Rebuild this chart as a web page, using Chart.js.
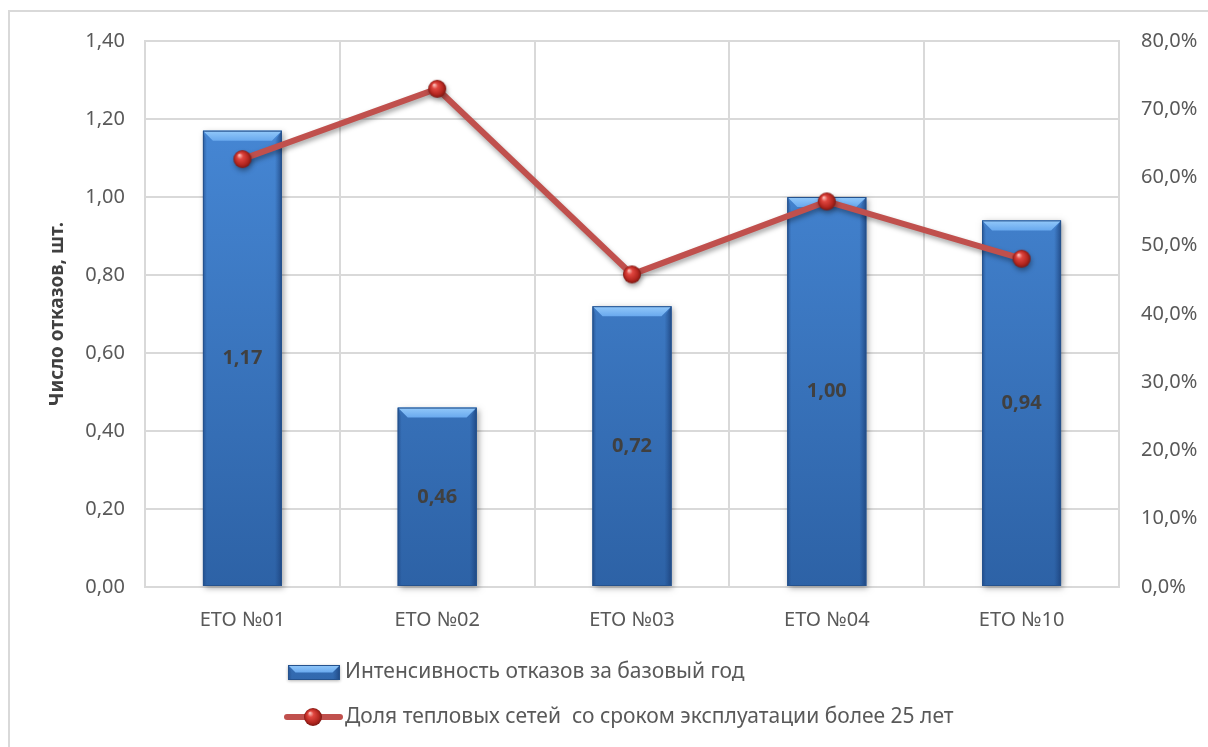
<!DOCTYPE html>
<html>
<head>
<meta charset="utf-8">
<script src="https://cdn.jsdelivr.net/npm/chart.js@4.4.1/dist/chart.umd.min.js"></script>
<style>
  html, body { margin: 0; padding: 0; background: #fff; }
  canvas { display: block; }
</style>
</head>
<body>
<canvas id="chart" width="1208" height="747"></canvas>
<script>
const categories = ["ЕТО №01", "ЕТО №02", "ЕТО №03", "ЕТО №04", "ЕТО №10"];
const failureRate = [1.17, 0.46, 0.72, 1.00, 0.94];
const oldNetworkShare = [62.7, 73.0, 45.8, 56.5, 48.1];
const barLabel = "Интенсивность отказов за базовый год";
const lineLabel = "Доля тепловых сетей  со сроком эксплуатации более 25 лет";
const leftTitle = "Число отказов, шт.";

const FONT = "'Noto Sans', 'Open Sans', sans-serif";
const TEXT = "#595959";
const GRID = "#d9d9d9";
const RED = "#c0504d";

const fmtNum = (v) => v.toFixed(2).replace(".", ",");
const fmtPct = (v) => v.toFixed(1).replace(".", ",") + "%";

// red glossy marker
function makeSphere(r) {
    const c = document.createElement("canvas");
    c.width = c.height = r * 2 + 2;
    const g = c.getContext("2d");
    const cx = r + 1, cy = r + 1;
    const grad = g.createRadialGradient(cx - r * 0.35, cy - r * 0.45, r * 0.05, cx, cy, r);
    grad.addColorStop(0, "#fbc0ba");
    grad.addColorStop(0.3, "#e0463f");
    grad.addColorStop(0.75, "#b3261f");
    grad.addColorStop(1, "#7c1813");
    g.fillStyle = grad;
    g.beginPath();
    g.arc(cx, cy, r, 0, Math.PI * 2);
    g.fill();
    return c;
}
const sphere = makeSphere(9);

function bodyGradient(ctx, top, bottom) {
    const g = ctx.createLinearGradient(0, top, 0, bottom);
    g.addColorStop(0, "#4a8ddc");
    g.addColorStop(1, "#2d62a6");
    return g;
}

// bevelled bar: body, light top edge, darker sides
function drawBevelBar(ctx, l, r, top, bottom, chartTop, chartBottom) {
    const b = Math.min(10, (bottom - top) / 2);
    ctx.fillStyle = bodyGradient(ctx, chartTop, chartBottom);
    ctx.fillRect(l, top, r - l, bottom - top);

    // right side shade
    const rg = ctx.createLinearGradient(r - 7, 0, r, 0);
    rg.addColorStop(0, "rgba(30,70,130,0)");
    rg.addColorStop(1, "rgba(25,60,115,0.75)");
    ctx.fillStyle = rg;
    ctx.beginPath();
    ctx.moveTo(r, top); ctx.lineTo(r, bottom); ctx.lineTo(r - 7, bottom); ctx.lineTo(r - 7, top + b);
    ctx.closePath(); ctx.fill();

    // left side shade
    const lg = ctx.createLinearGradient(l, 0, l + 4, 0);
    lg.addColorStop(0, "rgba(25,60,115,0.55)");
    lg.addColorStop(1, "rgba(30,70,130,0)");
    ctx.fillStyle = lg;
    ctx.beginPath();
    ctx.moveTo(l, top); ctx.lineTo(l + 4, top + b); ctx.lineTo(l + 4, bottom); ctx.lineTo(l, bottom);
    ctx.closePath(); ctx.fill();

    // top highlight
    const tg = ctx.createLinearGradient(0, top, 0, top + b);
    tg.addColorStop(0, "#93c9fa");
    tg.addColorStop(1, "#69a9ee");
    ctx.fillStyle = tg;
    ctx.beginPath();
    ctx.moveTo(l, top); ctx.lineTo(r, top); ctx.lineTo(r - b, top + b); ctx.lineTo(l + b, top + b);
    ctx.closePath(); ctx.fill();

    ctx.strokeStyle = "#25528d";
    ctx.lineWidth = 1;
    ctx.strokeRect(l + 0.5, top + 0.5, r - l - 1, bottom - top - 1);
}

const effectsPlugin = {
    id: "effects",
    beforeDraw(chart) {
        const ctx = chart.ctx;
        ctx.save();
        ctx.strokeStyle = GRID;
        ctx.lineWidth = 2;
        ctx.strokeRect(9, 11, chart.width + 20, chart.height + 20);
        ctx.restore();
    },
    beforeDatasetDraw(chart, args) {
        const ctx = chart.ctx;
        ctx.save();
        if (args.index === 1) {
            ctx.shadowColor = "rgba(0,0,0,0.35)";
            ctx.shadowBlur = 5;
            ctx.shadowOffsetX = 1;
            ctx.shadowOffsetY = 3;
        }
    },
    afterDatasetDraw(chart, args) {
        const ctx = chart.ctx;
        ctx.restore();
        if (args.index !== 0) return;
        const area = chart.chartArea;
        ctx.save();
        args.meta.data.forEach((bar) => {
            const p = bar.getProps(["x", "y", "base", "width"], true);
            const l = p.x - p.width / 2, r = p.x + p.width / 2;
            ctx.save();
            ctx.shadowColor = "rgba(0,0,0,0.35)";
            ctx.shadowBlur = 6;
            ctx.shadowOffsetX = 2;
            ctx.shadowOffsetY = 2;
            ctx.fillStyle = "#2d62a6";
            ctx.fillRect(l, p.y, r - l, p.base - p.y);
            ctx.restore();
            drawBevelBar(ctx, l, r, p.y, p.base, area.top, area.bottom);
        });
        ctx.restore();
    },
    afterDatasetsDraw(chart) {
        const ctx = chart.ctx;
        const meta = chart.getDatasetMeta(0);
        ctx.save();
        ctx.font = "bold 20px " + FONT;
        ctx.fillStyle = "#404040";
        ctx.textAlign = "center";
        ctx.textBaseline = "middle";
        meta.data.forEach((bar, i) => {
            const p = bar.getProps(["x", "y", "base"], true);
            ctx.fillText(fmtNum(failureRate[i]), p.x, (p.y + p.base) / 2);
        });
        ctx.restore();
    },
    afterDraw(chart) {
        // legend
        const ctx = chart.ctx;
        ctx.save();
        ctx.save();
        ctx.shadowColor = "rgba(0,0,0,0.3)";
        ctx.shadowBlur = 3;
        ctx.shadowOffsetY = 1;
        ctx.fillStyle = "#2d62a6";
        ctx.fillRect(288, 665, 52, 15);
        ctx.restore();
        drawBevelBar(ctx, 288, 340, 665, 680, 560, 700);

        ctx.strokeStyle = RED;
        ctx.lineWidth = 6;
        ctx.lineCap = "round";
        ctx.beginPath();
        ctx.moveTo(287, 717);
        ctx.lineTo(340, 717);
        ctx.stroke();
        ctx.drawImage(sphere, 313 - sphere.width / 2, 717 - sphere.height / 2);

        ctx.font = "21px " + FONT;
        ctx.fillStyle = TEXT;
        ctx.textBaseline = "middle";
        ctx.fillText(barLabel, 345, 672);
        ctx.fillText(lineLabel, 345, 717);
        ctx.restore();
    }
};

new Chart(document.getElementById("chart"), {
    data: {
        labels: categories,
        datasets: [
            {
                type: "bar",
                label: barLabel,
                data: failureRate,
                yAxisID: "y",
                backgroundColor: "rgba(0,0,0,0)",
                barPercentage: 0.405,
                categoryPercentage: 1,
                order: 2,
            },
            {
                type: "line",
                label: lineLabel,
                data: oldNetworkShare,
                yAxisID: "y1",
                borderColor: RED,
                borderWidth: 6,
                pointStyle: sphere,
                pointRadius: 9,
                tension: 0,
                order: 1,
            },
        ],
    },
    options: {
        responsive: false,
        animation: false,
        layout: { padding: { top: 41, left: 0, right: 0, bottom: 0 } },
        plugins: {
            legend: { display: false },
            tooltip: { enabled: false },
        },
        scales: {
            x: {
                offset: true,
                grid: { color: GRID, lineWidth: 2, offset: true, drawTicks: false },
                border: { color: GRID, width: 2 },
                ticks: { color: TEXT, font: { family: FONT, size: 20 }, padding: 21 },
                afterFit: (s) => { s.height = 160; },
            },
            y: {
                position: "left",
                min: 0,
                max: 1.4,
                ticks: {
                    stepSize: 0.2,
                    color: TEXT,
                    font: { family: FONT, size: 20 },
                    padding: 20,
                    callback: (v) => fmtNum(v),
                },
                grid: { color: GRID, lineWidth: 2, drawTicks: false },
                border: { color: GRID, width: 2 },
                title: {
                    display: true,
                    text: leftTitle,
                    color: "#404040",
                    font: { family: FONT, size: 19, weight: "bold" },
                    padding: { top: 46, bottom: 0 },
                },
                afterFit: (s) => { s.width = 145; },
            },
            y1: {
                position: "right",
                min: 0,
                max: 80,
                ticks: {
                    stepSize: 10,
                    color: TEXT,
                    font: { family: FONT, size: 20 },
                    padding: 22,
                    callback: (v) => fmtPct(v),
                },
                grid: { drawOnChartArea: false, drawTicks: false },
                border: { color: GRID, width: 2 },
                afterFit: (s) => { s.width = 89; },
            },
        },
    },
    plugins: [effectsPlugin],
});
</script>
</body>
</html>
